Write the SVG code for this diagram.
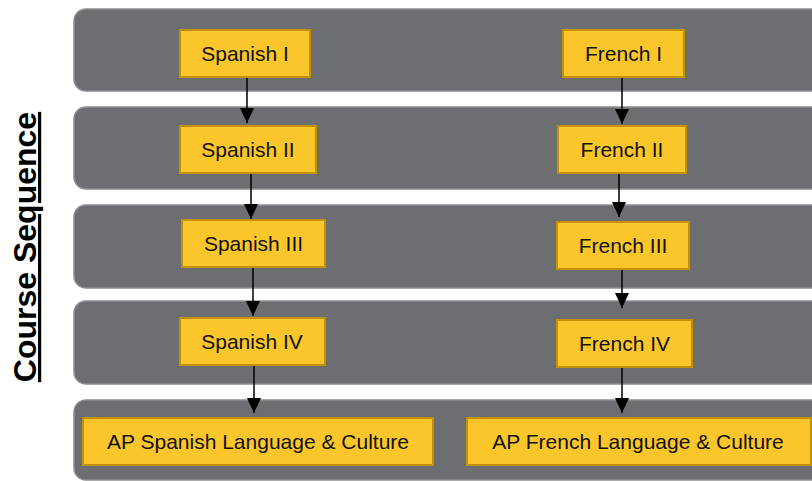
<svg xmlns="http://www.w3.org/2000/svg" width="812" height="481" viewBox="0 0 812 481">
  <defs>
    <marker id="arrow" viewBox="0 0 15 14" refX="15" refY="7" markerWidth="15" markerHeight="14" markerUnits="userSpaceOnUse" orient="auto">
      <path d="M0,0 L15,7 L0,14 Z" fill="#000"/>
    </marker>
  </defs>
  <style>
    .band { fill: #6d6e72; stroke: #8e8f92; stroke-width: 1.5; }
    .box { fill: #fac62b; stroke: #c39200; stroke-width: 2; }
    .lbl { font-family: "Liberation Sans", Arial, sans-serif; font-size: 21px; fill: #111; text-anchor: middle; }
    .conn { stroke: #000; stroke-width: 1.5; fill: none; }
    .title { font-family: "Liberation Sans", Arial, sans-serif; font-size: 32px; font-weight: bold; fill: #000; text-anchor: middle; text-decoration: underline; }
  </style>

  <rect width="812" height="481" fill="#fff"/>

  <!-- level bands -->
  <g id="bands">
    <rect class="band" x="74" y="9" width="760" height="82" rx="12"/>
    <rect class="band" x="74" y="107" width="760" height="82" rx="12"/>
    <rect class="band" x="74" y="205" width="760" height="83" rx="12"/>
    <rect class="band" x="74" y="301" width="760" height="83" rx="12"/>
    <rect class="band" x="74" y="400" width="760" height="80" rx="12"/>
  </g>

  <!-- side heading -->
  <text class="title" transform="translate(36,247) rotate(-90)">Course Sequence</text>

  <!-- connectors -->
  <g id="connectors">
    <line class="conn" x1="247" y1="77" x2="247" y2="123" marker-end="url(#arrow)"/>
    <line class="conn" x1="251" y1="173" x2="251" y2="219" marker-end="url(#arrow)"/>
    <line class="conn" x1="253" y1="267" x2="253" y2="316" marker-end="url(#arrow)"/>
    <line class="conn" x1="254" y1="365" x2="254" y2="413" marker-end="url(#arrow)"/>
    <line class="conn" x1="622" y1="77" x2="622" y2="124" marker-end="url(#arrow)"/>
    <line class="conn" x1="619" y1="173" x2="619" y2="217" marker-end="url(#arrow)"/>
    <line class="conn" x1="622" y1="269" x2="622" y2="308" marker-end="url(#arrow)"/>
    <line class="conn" x1="622" y1="367" x2="622" y2="413" marker-end="url(#arrow)"/>
  </g>

  <!-- Spanish track -->
  <g id="spanish-1"><rect class="box" x="180" y="30" width="130" height="47"/><text class="lbl" x="245" y="61">Spanish I</text></g>
  <g id="spanish-2"><rect class="box" x="180" y="126" width="136" height="47"/><text class="lbl" x="248" y="157">Spanish II</text></g>
  <g id="spanish-3"><rect class="box" x="182" y="220" width="143" height="47"/><text class="lbl" x="253.5" y="251">Spanish III</text></g>
  <g id="spanish-4"><rect class="box" x="180" y="318" width="145" height="47"/><text class="lbl" x="252" y="349">Spanish IV</text></g>
  <g id="ap-spanish"><rect class="box" x="83" y="418" width="350" height="47"/><text class="lbl" x="258" y="449">AP Spanish Language &amp; Culture</text></g>

  <!-- French track -->
  <g id="french-1"><rect class="box" x="563" y="30" width="121" height="47"/><text class="lbl" x="623.5" y="61">French I</text></g>
  <g id="french-2"><rect class="box" x="558" y="126" width="128" height="47"/><text class="lbl" x="622" y="157">French II</text></g>
  <g id="french-3"><rect class="box" x="557" y="222" width="132" height="47"/><text class="lbl" x="623" y="253">French III</text></g>
  <g id="french-4"><rect class="box" x="557" y="320" width="135" height="47"/><text class="lbl" x="624.5" y="351">French IV</text></g>
  <g id="ap-french"><rect class="box" x="467" y="418" width="344" height="47"/><text class="lbl" x="638" y="449">AP French Language &amp; Culture</text></g>
</svg>
